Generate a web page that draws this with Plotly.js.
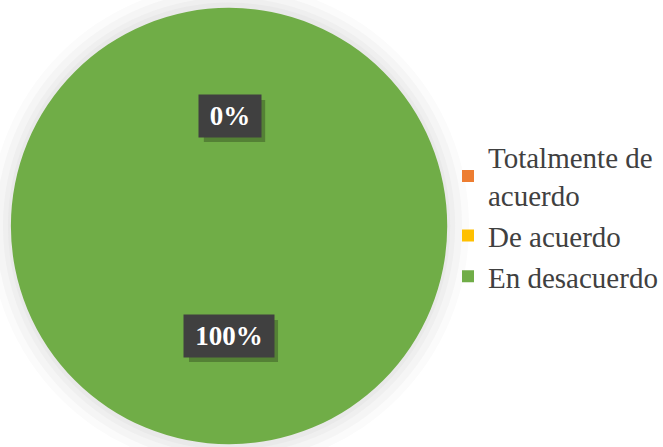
<!DOCTYPE html>
<html><head><meta charset="utf-8">
<script src="https://cdn.plot.ly/plotly-3.0.1.min.js"></script>
<style>html,body{margin:0;padding:0;background:#fff}#chart{width:663px;height:447px}</style>
</head><body><div id="chart"></div>
<script>
const categories = ["Totalmente de<br>acuerdo", "De acuerdo", "En desacuerdo"];
const values = [0, 0, 100];
const colors = ["#ED7D31", "#FFC000", "#70AD47"];

const total = values.reduce((a, b) => a + b, 0);
const pct = values.map(v => Math.round(v / total * 100) + "%");

const serif = "Liberation Serif";

const trace = {
  type: "pie",
  labels: categories,
  values: values,
  marker: {colors: colors, line: {width: 0}},
  textinfo: "none",
  sort: false,
  direction: "clockwise",
  rotation: 0,
  domain: {x: [11/663, 452/663], y: [0, 442/447]},
  showlegend: true,
  hoverinfo: "label+percent"
};

function px(x) { return x / 663; }
function py(y) { return 1 - y / 447; }

// soft glow around the pie (center 231.5, 226; radius 220.5)
const glow = [[22, "#fbfbfb"], [15, "#f5f5f5"], [8, "#efefef"], [3, "#e9e9e9"]].map(g => ({
  type: "circle", xref: "paper", yref: "paper", layer: "below",
  x0: px(231.5 - 220.5 - g[0]), x1: px(231.5 + 220.5 + g[0]),
  y0: py(226 + 220.5 + g[0]), y1: py(226 - 220.5 - g[0]),
  fillcolor: g[1], line: {width: 0}
}));

// label boxes: [text, centerX, centerY, halfWidth, halfHeight]
const boxes = [
  [pct[0], 232, 116, 31, 21],
  [pct[2], 231, 336, 45, 21]
];

const shadows = boxes.map(b => ({
  type: "rect", xref: "paper", yref: "paper", layer: "above",
  x0: px(b[1] - b[3] + 5), x1: px(b[1] + b[3] + 5),
  y0: py(b[2] + b[4] + 5), y1: py(b[2] - b[4] + 5),
  fillcolor: "rgba(0,0,0,0.25)", line: {width: 0}
}));

const annotations = boxes.map(b => ({
  text: "<b>" + b[0] + "</b>",
  x: px(b[1]), y: py(b[2]),
  xref: "paper", yref: "paper",
  xanchor: "center", yanchor: "middle",
  showarrow: false,
  font: {family: serif, size: 27, color: "#ffffff"},
  bgcolor: "#404040",
  width: b[3] * 2, height: b[4] * 2,
  borderpad: 0
}));

const layout = {
  width: 663, height: 447,
  margin: {l: 0, r: 0, t: 0, b: 0},
  paper_bgcolor: "#ffffff",
  font: {family: serif, color: "#404040"},
  showlegend: true,
  legend: {
    x: 0.683, y: 0.515, yanchor: "middle", xanchor: "left",
    bgcolor: "rgba(255,255,255,0)",
    font: {family: serif, size: 29, color: "#404040"},
    itemwidth: 30
  },
  shapes: glow.concat(shadows),
  annotations: annotations
};

Plotly.newPlot("chart", [trace], layout, {displayModeBar: false, staticPlot: true});
</script>
</body></html>
